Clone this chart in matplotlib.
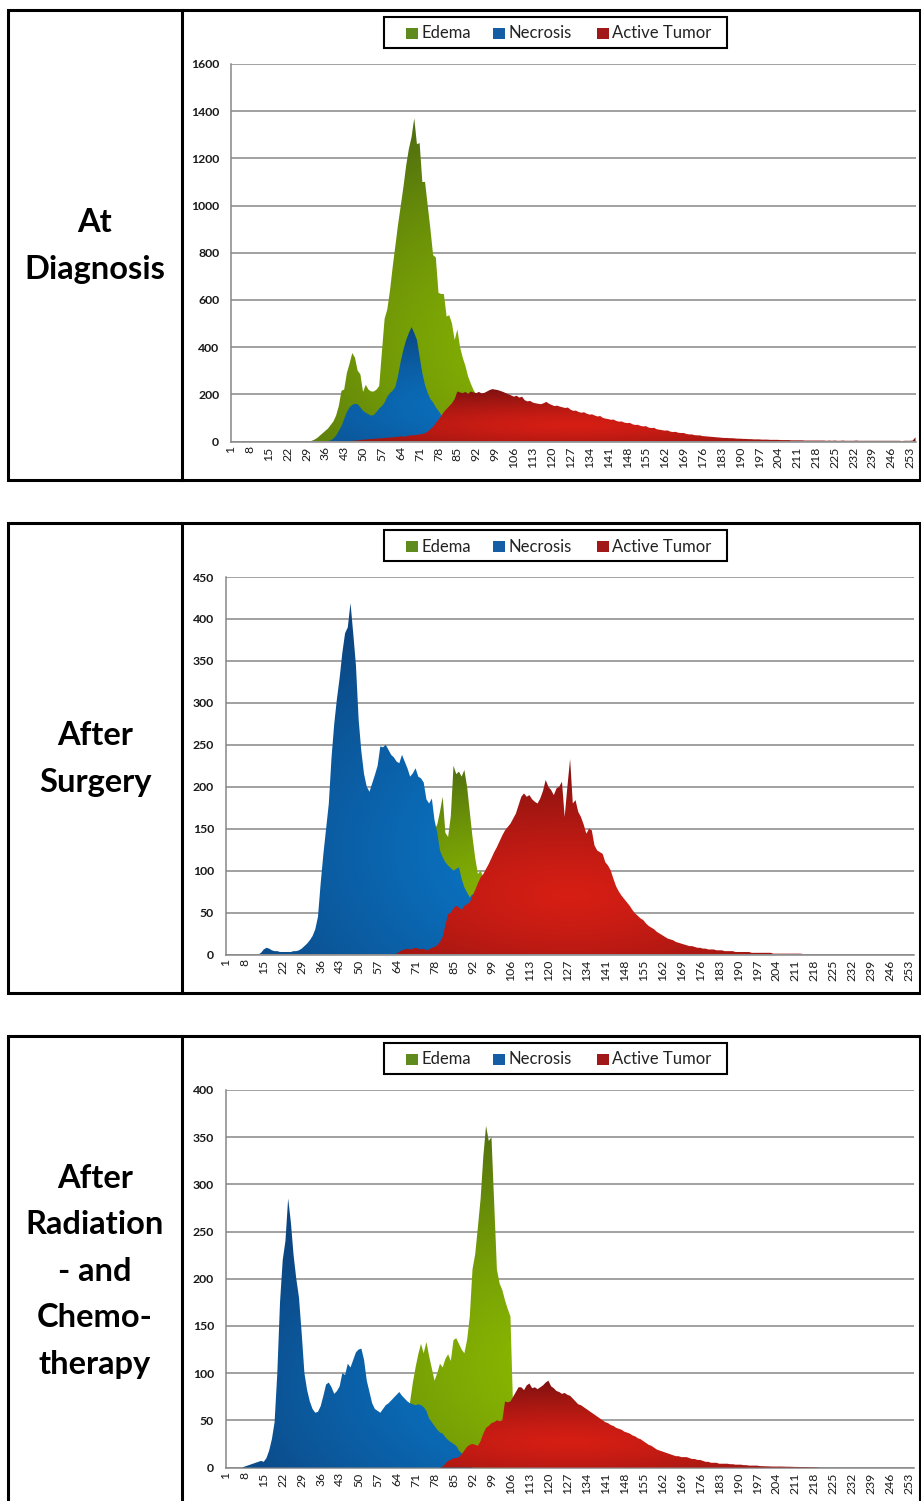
import numpy as np
import matplotlib
matplotlib.use("Agg")
import matplotlib.pyplot as plt
from matplotlib.patches import Rectangle, Polygon
from matplotlib.colors import to_rgb

plt.rcParams['font.family'] = ['Lato', 'DejaVu Sans']

# ---------------- data ----------------
categories = list(range(1, 256))
tick_values = list(range(1, 256, 7))
tick_labels = [str(v) for v in tick_values]
series_names = ["Edema", "Necrosis", "Active Tumor"]
panel_titles = [["At", "Diagnosis"], ["After", "Surgery"],
                ["After", "Radiation", "- and", "Chemo-", "therapy"]]

# Panel 1: At Diagnosis
diag_edema = [0] * 30 + [
    3, 8, 15, 25, 35, 45, 55, 70, 85, 110,
    150, 215, 220, 290, 330, 375, 355, 300, 285, 210,
    240, 220, 212, 212, 220, 235, 380, 520, 560, 640,
    740, 830, 920, 1000, 1080, 1170, 1240, 1290, 1370, 1260,
    1265, 1100, 1100, 1000, 900, 790, 780, 630, 625, 625,
    530, 535, 500, 430, 475, 400, 355, 320, 275, 245,
    218, 200, 180, 150, 110, 70, 40, 20, 8, 3] + [0] * 155
diag_necrosis = [0] * 36 + [
    2, 5, 12, 25, 45, 65, 95, 125, 145, 155,
    160, 158, 145, 130, 122, 115, 110, 112, 125, 140,
    150, 165, 190, 205, 215, 232, 280, 340, 390, 430,
    460, 485, 460, 430, 360, 290, 240, 205, 180, 165,
    145, 130, 112, 95, 80, 65, 50, 38, 28, 20,
    12, 6, 2] + [0] * 166
diag_tumor = [0] * 43 + [
    1, 2, 3, 4, 5, 6, 8, 8, 10, 10, 12, 12, 13, 14, 15, 16, 17,
    18, 18, 20, 22, 20, 22, 25, 26, 27, 28, 30, 32, 35, 42, 52, 62, 78, 92, 108, 125,
    138, 150, 162, 180, 212, 208, 205, 210, 202, 212, 208, 205, 210, 204, 206, 212, 218, 222, 220, 218,
    214, 210, 205, 200, 195, 190, 194, 186, 190, 175, 170, 172, 165, 162, 160, 158, 162, 168, 160, 155,
    150, 152, 148, 145, 142, 144, 135, 130, 131, 125, 122, 124, 118, 114, 115, 110, 106, 108, 100, 97,
    95, 92, 93, 87, 84, 85, 80, 78, 79, 73, 70, 71, 66, 64, 65, 59, 57, 58, 52, 50,
    48, 46, 47, 42, 40, 41, 37, 36, 36, 32, 30, 30, 27, 26, 26, 23, 22, 21, 20, 19,
    18, 17, 16, 15, 15, 14, 14, 13, 12, 12, 11, 11, 10, 10, 9, 9, 9, 8, 8, 8,
    7, 7, 7, 7, 6, 6, 6, 6, 5, 5, 5, 5, 5, 4, 4, 4, 4, 4, 4, 4,
    4, 3, 4, 3, 4, 3, 3, 4, 3, 3, 3, 3, 4, 3, 3, 3, 3, 3, 3, 3,
    3, 3, 3, 3, 3, 3, 3, 3, 3, 2, 3, 3, 3, 4, 18]

# Panel 2: After Surgery
surg_edema = [0] * 69 + [
    5, 20, 45, 70, 95, 115, 130, 140, 148, 155,
    170, 188, 145, 140, 165, 225, 215, 218, 212, 220,
    200, 170, 140, 115, 96, 100, 92, 85, 75, 60,
    42, 25, 10, 0] + [0] * 152
surg_necrosis = [0] * 12 + [
    0, 2, 6, 8, 7, 5, 4, 4, 3, 3,
    3, 3, 3, 4, 4, 5, 7, 10, 13, 17,
    22, 30, 45, 85, 120, 150, 180, 235, 275, 305,
    330, 360, 383, 390, 419, 383, 345, 280, 242, 215,
    200, 194, 204, 214, 225, 248, 247, 250, 244, 238,
    235, 230, 228, 238, 230, 222, 212, 216, 222, 212,
    210, 205, 185, 180, 186, 160, 145, 124, 116, 110,
    106, 103, 100, 102, 104, 90, 80, 74, 68, 72,
    66, 75, 70, 62, 52, 42, 30, 20, 12, 5, 0] + [0] * 152
surg_tumor = [0] * 63 + [
    1, 3, 5, 6, 7, 6, 7, 8, 7, 6,
    7, 5, 6, 8, 9, 11, 15, 21, 35, 48,
    50, 55, 58, 56, 53, 58, 60, 62, 70, 77,
    85, 92, 96, 102, 108, 115, 122, 128, 135, 142,
    148, 152, 156, 162, 168, 178, 188, 192, 188, 190,
    185, 182, 180, 186, 195, 208, 200, 196, 190, 198,
    200, 206, 164, 200, 233, 180, 184, 170, 164, 155,
    144, 150, 148, 130, 124, 122, 120, 110, 106, 100,
    90, 81, 75, 70, 66, 62, 58, 53, 49, 46,
    43, 41, 37, 34, 32, 30, 27, 25, 23, 21,
    19, 18, 17, 15, 14, 13, 12, 11, 10, 10,
    9, 8, 8, 7, 7, 6, 6, 6, 5, 5,
    5, 4, 4, 4, 4, 3, 3, 3, 3, 3,
    3, 2, 2, 2, 2, 2, 2, 2, 2, 1,
    1, 1, 1, 1, 1, 1, 1, 1, 1, 1,
    0.5, 0.5, 0.5, 0.5, 0.3, 0.2, 0] + [0] * 35

# Panel 3: After Radiation and Chemotherapy
chemo_edema = [0] * 66 + [
    5, 30, 70, 90, 106, 120, 131, 121, 133, 118,
    105, 92, 100, 110, 106, 115, 120, 113, 135, 137,
    131, 125, 121, 135, 160, 210, 226, 255, 285, 330,
    362, 346, 350, 280, 210, 195, 188, 177, 168, 160,
    60, 0] + [0] * 147
chemo_necrosis = [0] * 6 + [
    0, 1, 2, 3, 4, 5, 6, 7, 6, 10,
    18, 30, 48, 100, 175, 220, 240, 285, 260, 225,
    200, 180, 142, 100, 82, 70, 62, 58, 59, 65,
    76, 88, 90, 85, 78, 81, 86, 100, 98, 110,
    106, 114, 122, 125, 126, 114, 92, 80, 68, 62,
    60, 58, 62, 66, 68, 71, 74, 77, 80, 76,
    73, 70, 68, 67, 66, 67, 66, 64, 60, 52,
    48, 44, 40, 37, 36, 32, 29, 27, 25, 23,
    18, 15, 10, 6, 2, 0] + [0] * 163
chemo_tumor = [0] * 80 + [
    1, 4, 7, 8, 10, 10, 11, 14, 18, 22,
    24, 25, 24, 23, 28, 36, 42, 44, 47, 48,
    50, 49, 50, 70, 69, 70, 75, 80, 85, 85,
    82, 87, 89, 84, 85, 83, 85, 87, 90, 92,
    86, 84, 81, 80, 78, 79, 77, 76, 73, 70,
    67, 66, 64, 62, 60, 58, 56, 54, 52, 50,
    48, 47, 45, 44, 42, 41, 40, 38, 37, 36,
    34, 33, 31, 30, 28, 26, 24, 23, 21, 19,
    18, 17, 16, 15, 14, 13, 12, 12, 11, 11,
    11, 10, 9, 9, 8, 8, 7, 6, 6, 5,
    5, 5, 4, 4, 4, 4, 3.5, 3.5, 3, 3,
    3, 2.5, 2.5, 2, 2, 2, 2, 1.5, 1.4, 1.3,
    1.2, 1.1, 1, 1, 1, 1, 0.9, 0.8, 0.8, 0.7,
    0.6, 0.6, 0.5, 0.5, 0.4, 0.4, 0.3, 0.3, 0.2, 0] + [0] * 35

panels = [
    (diag_edema, diag_necrosis, diag_tumor, 1600, 200),
    (surg_edema, surg_necrosis, surg_tumor, 450, 50),
    (chemo_edema, chemo_necrosis, chemo_tumor, 400, 50),
]

# ---------------- styling ----------------
W, H = 921, 1501
fig = plt.figure(figsize=(W / 100, H / 100), dpi=100)
fig.patch.set_facecolor("white")

bright = ["#8cba00", "#0a7acc", "#d61e14"]
dark = ["#4e6c10", "#0c4682", "#761010"]
legend_cols = ["#5f8a1e", "#155ea6", "#a01818"]
grid_col = "#878787"


def fx(px):
    return px / W


def fy(py):
    return 1 - py / H


def add_axes_px(left, top, right, bottom):
    return fig.add_axes([left / W, 1 - bottom / H, (right - left) / W, (bottom - top) / H])


def grad_area(ax, x, y, c_bright, c_dark, z):
    x = np.asarray(x, float)
    y = np.asarray(y, float)
    verts = np.column_stack([np.r_[x[0], x, x[-1]], np.r_[0, y, 0]])
    patch = Polygon(verts, closed=True, facecolor="none", edgecolor="none",
                    transform=ax.transData)
    ax.add_patch(patch)
    ym = y.max()
    gx = np.linspace(1, 255, 600)
    gy = np.linspace(0, ym * 1.02, 400)
    X, Y = np.meshgrid(gx, gy)
    t = np.sqrt(((X - 128) / 140) ** 2 + ((Y - 0.3 * ym) / (0.75 * ym)) ** 2)
    t = np.clip(t, 0, 1) ** 1.3
    b = np.array(to_rgb(c_bright))
    d = np.array(to_rgb(c_dark))
    img = b[None, None, :] * (1 - t[..., None]) + d[None, None, :] * t[..., None]
    im = ax.imshow(img, extent=[1, 255, 0, ym * 1.02], origin="lower",
                   aspect="auto", zorder=z, interpolation="bilinear")
    im.set_clip_path(patch)


offsets = [0, 513, 1026]
axes_x = [(231, 915.5), (225.8, 914.4), (225.8, 914.4)]
title_baselines = [[232, 279], [745, 792], [1188, 1234, 1281, 1327, 1374]]

for k, (ed, ne, tu, ymax, ystep) in enumerate(panels):
    off = offsets[k]
    # outer frame and divider
    top_frame = 10 + off
    bot_frame = 480 + off if k < 2 else 1506
    fig.add_artist(Rectangle((fx(8), fy(bot_frame)), fx(919.5) - fx(8),
                             fy(top_frame) - fy(bot_frame), transform=fig.transFigure,
                             facecolor="none", edgecolor="black", lw=2.2, zorder=10))
    fig.add_artist(plt.Line2D([fx(182), fx(182)], [fy(top_frame), fy(bot_frame)],
                              transform=fig.transFigure, color="black", lw=2.2, zorder=10))
    # side title
    for line, bl in zip(panel_titles[k], title_baselines[k]):
        fig.text(fx(95), fy(bl), line, ha="center", va="baseline",
                 fontsize=23.5, fontweight="bold", color="black")

    left, right = axes_x[k]
    ax = add_axes_px(left, 64 + off, right, 441.5 + off)
    grad_area(ax, categories, ed, bright[0], dark[0], 2)
    grad_area(ax, categories, ne, bright[1], dark[1], 3)
    grad_area(ax, categories, tu, bright[2], dark[2], 4)
    ax.set_xlim(1, 255)
    ax.set_ylim(0, ymax)
    ax.set_yticks(np.arange(0, ymax + 1, ystep))
    ax.set_yticklabels([str(v) for v in np.arange(0, ymax + 1, ystep)],
                       fontsize=8.8, fontweight="bold", color="#1a1a1a")
    ax.set_xticks(tick_values)
    ax.set_xticklabels(tick_labels, rotation=90, fontsize=8.8, color="#1a1a1a")
    ax.tick_params(axis="y", length=0, pad=8.5)
    ax.tick_params(axis="x", length=0, pad=3.5)
    ax.yaxis.grid(True, color=grid_col, lw=1.1)
    ax.set_axisbelow(True)
    for s in ["top", "right"]:
        ax.spines[s].set_visible(False)
    for s in ["left", "bottom"]:
        ax.spines[s].set_color(grid_col)
        ax.spines[s].set_linewidth(1.1)
    ax.set_facecolor("none")

    # legend box
    fig.add_artist(Rectangle((fx(384), fy(48 + off)), fx(727) - fx(384),
                             fy(17 + off) - fy(48 + off), transform=fig.transFigure,
                             facecolor="white", edgecolor="black", lw=1.5, zorder=10))
    sq_x = [406, 493, 597]
    tx_x = [421, 508.5, 611.5]
    for name, col, sx, tx in zip(series_names, legend_cols, sq_x, tx_x):
        fig.add_artist(Rectangle((fx(sx), fy(39 + off)), fx(sx + 11.5) - fx(sx),
                                 fy(27.5 + off) - fy(39 + off), transform=fig.transFigure,
                                 facecolor=col, edgecolor="none", zorder=11))
        fig.text(fx(tx), fy(33.5 + off), name, ha="left", va="center",
                 fontsize=12, color="#222222", zorder=12)

fig.savefig("out.png", dpi=100, facecolor="white")
